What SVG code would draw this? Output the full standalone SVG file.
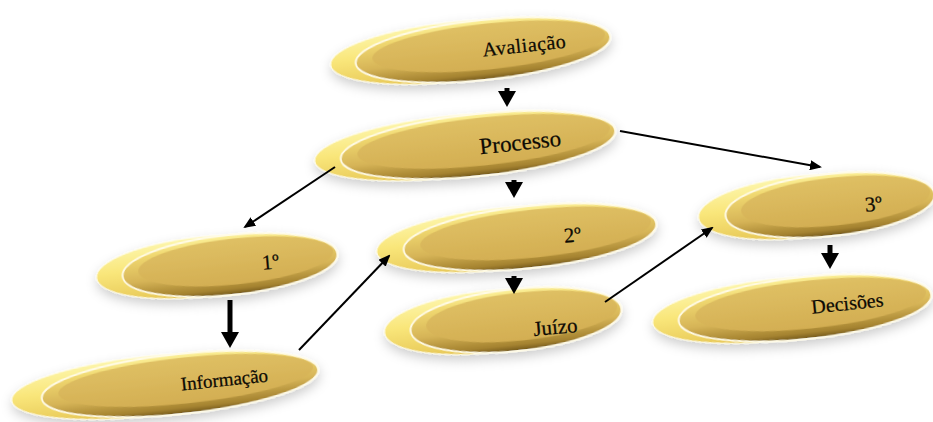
<svg xmlns="http://www.w3.org/2000/svg" width="933" height="422" viewBox="0 0 933 422">
<style>
.back{fill:url(#gBack);stroke:#fffbe0;stroke-width:1}
.front{fill:url(#gFront);stroke:#fffbe6;stroke-width:1.8}
.face{fill:url(#gFace)}
.sh{filter:url(#shadow)}
.lbl{font-family:"Liberation Serif","Times New Roman",serif;fill:#0d0a04;stroke:#0d0a04;stroke-width:0.25;text-anchor:middle}
.thin{stroke:#000;stroke-width:2;fill:none;marker-end:url(#mThin)}
.thick{stroke:#000;stroke-width:5;fill:none;marker-end:url(#mThick)}
</style>
<defs>
<linearGradient id="gBack" x1="0" y1="0" x2="0" y2="1">
<stop offset="0" stop-color="#fdf6ac"/>
<stop offset="0.45" stop-color="#f9e67a"/>
<stop offset="1" stop-color="#e6c655"/>
</linearGradient>
<linearGradient id="gFront" x1="0" y1="0" x2="0" y2="1">
<stop offset="0" stop-color="#fcf19a"/>
<stop offset="0.2" stop-color="#f0d870"/>
<stop offset="0.62" stop-color="#d6b457"/>
<stop offset="0.9" stop-color="#a4822f"/>
<stop offset="1" stop-color="#70561a"/>
</linearGradient>
<linearGradient id="gFace" x1="0" y1="0" x2="0" y2="1">
<stop offset="0" stop-color="#dfc064"/>
<stop offset="1" stop-color="#d3ae52"/>
</linearGradient>
<filter id="shadow" x="-20%" y="-40%" width="140%" height="200%">
<feDropShadow dx="0" dy="5" stdDeviation="6" flood-color="#000" flood-opacity="0.2"/>
</filter>
<marker id="mThin" markerUnits="userSpaceOnUse" markerWidth="12" markerHeight="10" refX="10" refY="5" orient="auto">
<path d="M0,0 L12,5 L0,10 z" fill="#000"/>
</marker>
<marker id="mThick" markerUnits="userSpaceOnUse" markerWidth="16" markerHeight="18" refX="4" refY="9" orient="auto">
<path d="M0,0 L16,9 L0,18 z" fill="#000"/>
</marker>
</defs>
<rect width="933" height="422" fill="#fff"/>

<g id="n-avaliacao">
<g class="sh" transform="translate(483,50) rotate(-6)">
<ellipse class="back" cx="-25" cy="-1" rx="128" ry="30"/>
<ellipse class="front" cx="0" cy="0" rx="128" ry="30"/>
<ellipse class="face" cx="6" cy="-3" rx="117" ry="23"/>
</g>
<text class="lbl" x="525" y="52" font-size="20" letter-spacing="0.5" transform="rotate(-6 525 52)">Avaliação</text>
</g>

<g id="n-processo">
<g class="sh" transform="translate(478,145) rotate(-6)">
<ellipse class="back" cx="-26" cy="-1" rx="138" ry="31"/>
<ellipse class="front" cx="0" cy="0" rx="138" ry="31"/>
<ellipse class="face" cx="6" cy="-3" rx="127" ry="24"/>
</g>
<text class="lbl" x="521" y="150" font-size="23" transform="rotate(-6 521 150)">Processo</text>
</g>

<g id="n-1">
<g class="sh" transform="translate(230,265) rotate(-6)">
<ellipse class="back" cx="-26" cy="-1" rx="108" ry="30"/>
<ellipse class="front" cx="0" cy="0" rx="108" ry="30"/>
<ellipse class="face" cx="6" cy="-3" rx="98" ry="23"/>
</g>
<text class="lbl" x="271" y="269" font-size="21" transform="rotate(-5 271 269)">1º</text>
</g>

<g id="n-informacao">
<g class="sh" transform="translate(180,384) rotate(-6)">
<ellipse class="back" cx="-30" cy="-1" rx="139" ry="30"/>
<ellipse class="front" cx="0" cy="0" rx="139" ry="30"/>
<ellipse class="face" cx="6" cy="-3" rx="128" ry="23"/>
</g>
<text class="lbl" x="225" y="386" font-size="19" transform="rotate(-6 225 386)">Informação</text>
</g>

<g id="n-2">
<g class="sh" transform="translate(530,237) rotate(-6)">
<ellipse class="back" cx="-27" cy="-1" rx="127" ry="31"/>
<ellipse class="front" cx="0" cy="0" rx="127" ry="31"/>
<ellipse class="face" cx="6" cy="-3" rx="116" ry="24"/>
</g>
<text class="lbl" x="573" y="242" font-size="21" transform="rotate(-5 573 242)">2º</text>
</g>

<g id="n-juizo">
<g class="sh" transform="translate(516,320) rotate(-6)">
<ellipse class="back" cx="-26" cy="-1" rx="106" ry="31"/>
<ellipse class="front" cx="0" cy="0" rx="106" ry="31"/>
<ellipse class="face" cx="6" cy="-3" rx="96" ry="24"/>
</g>
<text class="lbl" x="556" y="334" font-size="21" transform="rotate(-5 556 334)">Juízo</text>
</g>

<g id="n-3">
<g class="sh" transform="translate(830,205) rotate(-6)">
<ellipse class="back" cx="-27" cy="-1" rx="105" ry="31"/>
<ellipse class="front" cx="0" cy="0" rx="105" ry="31"/>
<ellipse class="face" cx="6" cy="-3" rx="95" ry="24"/>
</g>
<text class="lbl" x="874" y="211" font-size="21" transform="rotate(-5 874 211)">3º</text>
</g>

<g id="n-decisoes">
<g class="sh" transform="translate(805,308) rotate(-6)">
<ellipse class="back" cx="-26" cy="-1" rx="127" ry="31"/>
<ellipse class="front" cx="0" cy="0" rx="127" ry="31"/>
<ellipse class="face" cx="6" cy="-3" rx="116" ry="24"/>
</g>
<text class="lbl" x="848" y="310" font-size="20" transform="rotate(-6 848 310)">Decisões</text>
</g>

<g id="connectors">
<line class="thick" x1="507" y1="88" x2="507" y2="95"/>
<line class="thick" x1="514" y1="180" x2="514" y2="186"/>
<line class="thick" x1="514" y1="276" x2="514" y2="282"/>
<line class="thick" x1="230" y1="300" x2="230" y2="336"/>
<line class="thick" x1="830" y1="245" x2="830" y2="257"/>
<line class="thin" x1="335" y1="167" x2="245" y2="227"/>
<line class="thin" x1="620" y1="131" x2="820" y2="167"/>
<line class="thin" x1="299" y1="350" x2="389" y2="256"/>
<line class="thin" x1="605" y1="302" x2="712" y2="228"/>
</g>
</svg>
